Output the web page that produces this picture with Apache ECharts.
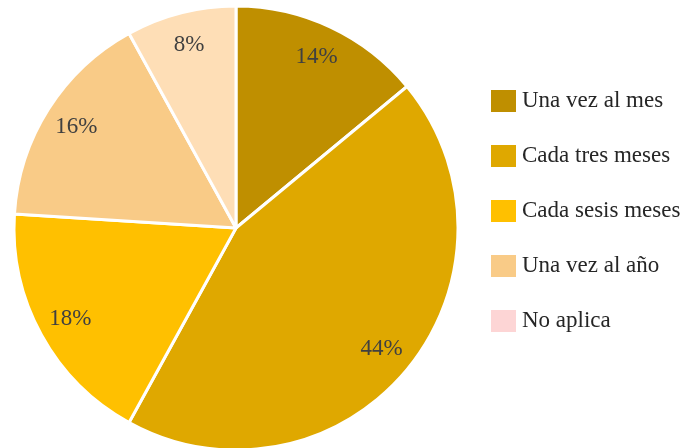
<!DOCTYPE html>
<html>
<head>
<meta charset="utf-8">
<script src="https://cdn.jsdelivr.net/npm/echarts@6/dist/echarts.min.js"></script>
<style>
  html, body { margin: 0; padding: 0; background: #fff; }
  #chart { width: 690px; height: 448px; }
</style>
</head>
<body>
<div id="chart"></div>
<script>
var categories = ['Una vez al mes', 'Cada tres meses', 'Cada sesis meses', 'Una vez al año', 'No aplica'];
var values = [14, 44, 18, 16, 8];
var sliceColors = ['#BF8F00', '#DFA800', '#FFC000', '#F9CB87', '#FEDEB6'];
var legendColors = ['#BF8F00', '#DFA800', '#FFC000', '#F9CB87', '#FDD5D5'];

var serif = '"Liberation Serif", "Times New Roman", serif';
var myChart = echarts.init(document.getElementById('chart'));

var pieData = categories.map(function (name, i) {
    return { name: name, value: values[i], itemStyle: { color: sliceColors[i] } };
});

// transparent ring only to place the labels near the rim
var labelData = categories.map(function (name, i) {
    return { name: name, value: values[i] };
});

var option = {
    animation: false,
    textStyle: { fontFamily: serif },
    legend: {
        orient: 'vertical',
        left: 489,
        top: 88,
        padding: 0,
        itemWidth: 27,
        itemHeight: 24,
        itemGap: 29,
        icon: 'rect',
        selectedMode: false,
        textStyle: {
            fontFamily: serif,
            fontSize: 23,
            lineHeight: 24,
            color: '#262626'
        },
        data: categories.map(function (name, i) {
            return { name: name, itemStyle: { color: legendColors[i] } };
        })
    },
    series: [{
        type: 'pie',
        center: [236, 228],
        radius: [0, 222],
        startAngle: 90,
        clockwise: true,
        label: { show: false },
        labelLine: { show: false },
        emphasis: { disabled: true },
        itemStyle: { borderColor: '#fff', borderWidth: 3 },
        data: pieData
    }, {
        type: 'pie',
        center: [236, 228],
        radius: [150, 222],
        startAngle: 90,
        silent: true,
        itemStyle: { color: 'rgba(0,0,0,0)' },
        label: {
            show: true,
            position: 'inside',
            formatter: '{c}%',
            fontFamily: serif,
            fontSize: 23,
            color: '#404040'
        },
        labelLine: { show: false },
        emphasis: { disabled: true },
        data: labelData
    }]
};

myChart.setOption(option);
</script>
</body>
</html>
